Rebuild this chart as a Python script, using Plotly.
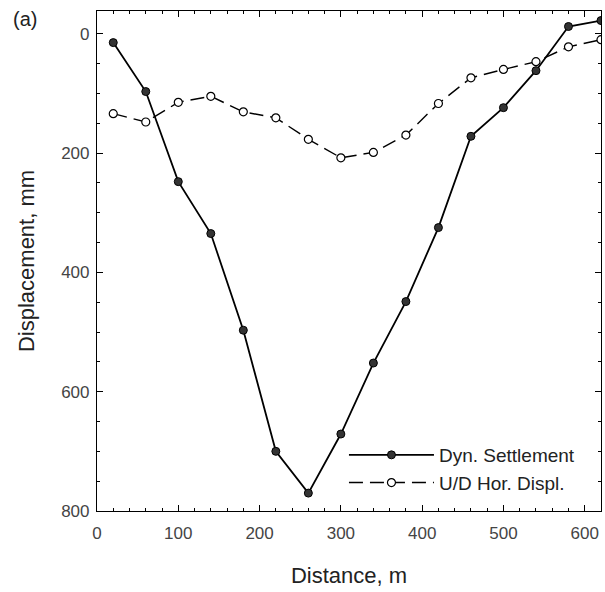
import plotly.graph_objects as go

distance = [20, 60, 100, 140, 180, 220, 260, 300, 340, 380, 420, 460, 500, 540, 580, 620]
dyn_settlement = [15, 97, 248, 335, 497, 700, 770, 671, 552, 449, 325, 172, 124, 62, -12, -22]
ud_hor_displ = [134, 148, 115, 105, 131, 141, 177, 208, 199, 170, 117, 74, 60, 47, 22, 10]

FONT = "Liberation Sans, Arial, sans-serif"
INK = "#222222"

fig = go.Figure()
fig.add_trace(go.Scatter(
    x=distance, y=dyn_settlement, name="Dyn. Settlement", mode="lines+markers",
    line=dict(color="black", width=1.8),
    marker=dict(symbol="circle", size=8, color="#333333", line=dict(color="black", width=1)),
))
fig.add_trace(go.Scatter(
    x=distance, y=ud_hor_displ, name="U/D Hor. Displ.", mode="lines+markers",
    line=dict(color="black", width=1.4, dash="14px,7px"),
    marker=dict(symbol="circle", size=8, color="white", line=dict(color="black", width=1.2)),
))

axis_common = dict(
    showgrid=False, zeroline=False, showline=True, linecolor="black", linewidth=1.2,
    mirror="allticks", ticks="inside", ticklen=6, tickwidth=1, tickcolor="black",
    tickfont=dict(family=FONT, size=17, color="#444444"),
)

fig.update_xaxes(
    **axis_common, range=[0, 620], tickvals=[0, 100, 200, 300, 400, 500, 600],
    ticklabelstandoff=6,
    minor=dict(dtick=20, tick0=0, ticks="inside", ticklen=3, tickcolor="black"),
    title=dict(text="Distance, m", font=dict(family=FONT, size=22, color=INK), standoff=26),
)
fig.update_yaxes(
    **axis_common, range=[800, -38], tickvals=[0, 200, 400, 600, 800],
    ticklabelstandoff=3,
    minor=dict(dtick=50, tick0=0, ticks="inside", ticklen=3, tickcolor="black"),
    title=dict(text="Displacement, mm", font=dict(family=FONT, size=22, color=INK), standoff=20),
)

fig.update_layout(
    width=605, height=592,
    margin=dict(l=97, r=4, t=11, b=81),
    paper_bgcolor="white", plot_bgcolor="white",
    showlegend=True,
    legend=dict(
        x=0.49, y=0.15, xanchor="left", yanchor="top",
        bgcolor="rgba(0,0,0,0)", borderwidth=0, itemwidth=85,
        font=dict(family=FONT, size=19, color=INK),
    ),
    annotations=[dict(
        text="(a)", x=-0.171, y=0.985, xref="paper", yref="paper",
        xanchor="left", yanchor="middle", showarrow=False,
        font=dict(family=FONT, size=20, color=INK),
    )],
)

fig.write_html("out.html")
